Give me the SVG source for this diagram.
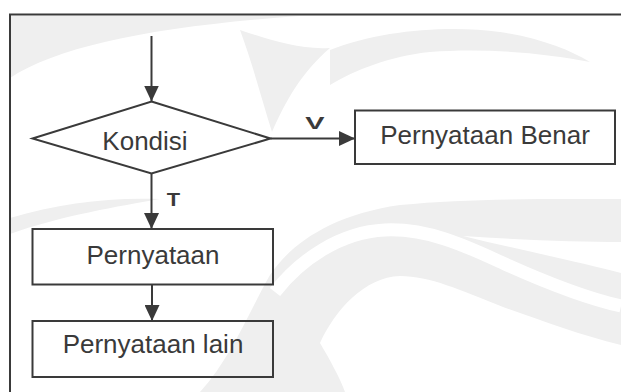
<svg xmlns="http://www.w3.org/2000/svg" width="621" height="392" viewBox="0 0 621 392">
<style>
.ln{stroke:#3a3a3a;stroke-width:2;fill:none}
.shape{fill:none;stroke:#3a3a3a;stroke-width:2}
.lbl{font-family:"Liberation Sans",Arial,sans-serif;font-size:26px;fill:#3a3a3a;text-anchor:middle}
.edge{font-family:"Liberation Sans",Arial,sans-serif;font-weight:bold;fill:#3a3a3a;text-anchor:middle}
.wm{fill:#efefef}
.wmw{fill:#ffffff}
</style>
<defs>
<marker id="ah" markerUnits="userSpaceOnUse" viewBox="0 0 16 15" refX="16" refY="7.5" markerWidth="16" markerHeight="15" orient="auto">
<path d="M0,0 L16,7.5 L0,15 z" fill="#3a3a3a"/>
</marker>
</defs>
<rect width="621" height="392" fill="#ffffff"/>
<g id="watermark">
<path class="wm" d="M10,78 C60,45 160,26 300,16 L10,16 Z"/>
<path class="wm" d="M272,132 C262,100 252,62 240,30 C270,40 300,50 330,48 C302,72 286,100 272,132 Z"/>
<path class="wm" d="M330,50 C380,30 450,25 500,32 C540,38 570,50 590,62 C540,52 480,48 430,52 C390,56 355,70 330,85 Z"/>
<path class="wm" d="M270,275 C290,245 330,215 400,205 C470,198 550,199 621,199 L621,345 C580,335 540,320 503,307 C460,290 430,276 400,276 C365,277 335,310 320,343 C330,360 340,378 345,392 L200,392 C230,360 250,310 270,275 Z"/>
<path d="M275,292 C300,260 340,232 385,230 C430,228 470,248 505,264 C545,282 585,298 621,306" fill="none" stroke="#ffffff" stroke-width="13"/>
<path class="wmw" d="M463,236 C520,240 580,242 621,242 L621,273 C580,262 520,250 463,236 Z"/>
<path class="wm" d="M10,218 C60,203 110,197 160,199 C120,206 60,216 10,234 Z"/>
</g>
<path class="ln" d="M10,392 V14.5 H621"/>
<g id="connectors">
<path class="ln" d="M151.5,36 V101.5" marker-end="url(#ah)"/>
<path class="ln" d="M270.5,138.5 H355" marker-end="url(#ah)"/>
<path class="ln" d="M151.5,173.5 V229" marker-end="url(#ah)"/>
<path class="ln" d="M152,284.5 V321" marker-end="url(#ah)"/>
<text class="edge" font-size="17" transform="translate(315,129) scale(1.7,1)">V</text>
<text class="edge" font-size="19" transform="translate(173.5,205.5) scale(1.15,1)">T</text>
</g>
<g id="kondisi">
<polygon class="shape" points="151.5,101.5 270.5,138.5 151.5,173.5 32.5,138.5"/>
<text class="lbl" x="145" y="150">Kondisi</text>
</g>
<g id="pernyataan-benar">
<rect class="shape" x="355" y="110.5" width="260" height="53.5"/>
<text class="lbl" x="485" y="144">Pernyataan Benar</text>
</g>
<g id="pernyataan">
<rect class="shape" x="32.5" y="229" width="240.5" height="55.5"/>
<text class="lbl" x="153" y="264">Pernyataan</text>
</g>
<g id="pernyataan-lain">
<rect class="shape" x="32.5" y="321" width="240.5" height="56"/>
<text class="lbl" x="153" y="353">Pernyataan lain</text>
</g>
</svg>
